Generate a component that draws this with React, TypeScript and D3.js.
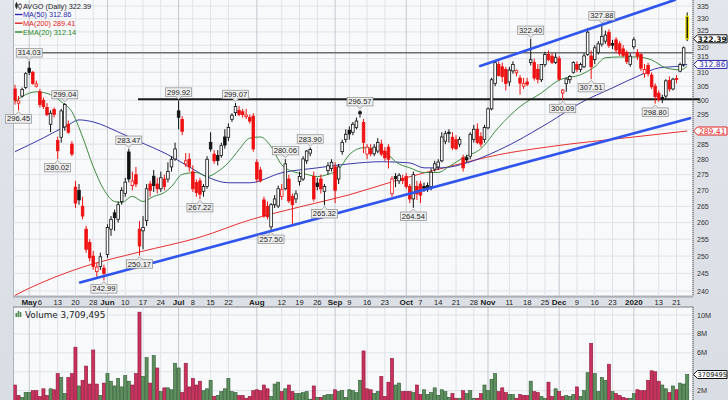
import React from "react";
import * as d3 from "d3";

// ---------- DATA ----------
const opens = [304,299,301.5,304.5,311.5,310,305,303,300,297.5,291.7,296.8,286.2,287.3,290.8,291.7,285,271,270,265,258,254,250,245.5,247,246.5,250.5,258,263,261,266.5,269,282.4,271.5,275,258,257.5,260.6,272,274.5,272,270.5,273.6,273.6,277.5,280.1,296.3,293.4,278.5,280,275.9,272.5,273,269.7,271.2,285.6,281.7,281.2,281.2,287.4,287.3,293.4,295.7,296.5,296,294.3,294,294.5,279,276.5,267,265,258.7,265.5,265.1,268.1,270.5,273.6,268.1,267.3,272.8,273.6,279.5,282,274.4,272.3,273.6,269.7,276.3,277,277.5,273.6,282.5,286.6,289.7,289,290.6,296,292.3,281.7,283.4,281.8,282.7,285,282.7,284,268.9,274.4,273,273.8,274.4,271.2,267.3,271.2,272,271.2,271.5,271.2,276.8,277.5,279.5,286,289,287.3,286.5,285,280.5,280.5,281,286.6,290,287.5,286.6,290.5,297,306,312.8,312,311,306.5,310.5,309.8,307.9,305,306.5,313.6,313.6,311,307.3,312.8,316.5,315.9,313.6,315,302.6,305.9,307.3,310,312.8,311,312,316.5,316,314.6,317.3,320.4,321.5,324.9,320.6,322,320.5,318.6,317.3,312.8,319.4,317.3,316.5,309.5,312.5,309,305,302.5,301,301.5,307,304,307.8,310.4,312.8,331];
const highs = [305.5,301.5,304.5,310,314.03,310.5,307,304,301,299,296.5,297.5,287.5,297,299.04,293,286,273,272,268,259,255,251.5,248,251,247.5,259.5,262,264,266.5,271,274,283.47,276,277.5,260.5,262,272,273,276.5,274,276,275,279,281,285.5,299.92,294.5,282,282,278,273.5,274,272,281,289,283,283,285.5,290,292,295.5,299.07,298,297,297,295,295.5,280,277.5,268,266.5,266,268.5,271.5,272,280.06,275,269,270,276,281,283,283.9,276,274,275,272,279,280,279,278.5,286.5,290,291,292.5,294,296.57,293.5,285,285,285,287,286.5,284,285,274.5,275.5,275.5,275,275.5,272,276,273,273,272.5,272.5,277,279.5,280,289,289.5,290,289,288,287.5,281.5,281.5,289,291.5,292,289,291.5,297.5,308,314,314,313.5,312,312,314,311,309,308,308,322.4,315,313,313,317.5,318,317,317,316,304,308,309,314,314,313.5,317,326.5,318,320,321.5,327.88,325.5,326,322,323,321.5,320,318,317,323,318.5,317,313,313.5,310,306,303.5,302,307.5,308.5,308,309,313.5,319.5,332.5];
const lows = [298.5,296.45,301,304,309,305.5,304.5,297.5,297,294.5,289,294,280.02,285.5,289.5,288.5,281,264.5,265.5,261,251,248.5,246,244,246,242.99,249.5,256,257.5,260,265.5,268,272.5,270,271,250.17,252,259,268,269.5,269,269.5,270,272.5,276,279.5,290,288,277.5,276,269.5,268,267.22,268,270.5,282.5,278.5,278,280.5,283.5,286,292.5,294.5,294.5,294,293.5,292,282.5,272.5,272.5,261.5,261,257.5,264.5,264.5,267,270,266,259.6,266,271.5,273,278.5,281,266.5,270,269,265.32,275,276,266,272,281.5,285.5,286.5,288,290,294,282,280,281,281,282,281,279.5,277,268,271,272,272,270.5,266,264.54,267,266,269.5,269.5,270,276,276.5,279,285,285.5,283,283,284,276,279,280,285.5,285,284,285.5,290,296.5,305,308.5,306.5,303.5,305,309.5,308.5,302,304,305,312.5,307,306,306.5,312,314,313,313,307,300.09,303,306,309.5,310,310,311.5,316,307.51,313,316.5,319.5,320.5,319,318.5,317,316,315.5,313,312,318.5,314.5,310.5,308,308.5,304,298.8,299.5,299,300.5,303,303.5,306,310,312,321.5];
const closes = [300,299.8,303.8,309.5,310,306,305.8,298.5,297.8,295,295.5,295.1,282.8,296.3,298.5,289,281.7,266,267,262,252,249.5,247,246.8,249.8,245,258.5,261,261.5,265.5,270,272.6,273.6,273,272,253,258.5,270.5,270,271.5,270.5,274,271.2,276,280,283.4,294.1,289.3,279.5,277.5,270.5,269.3,268.8,271.2,280,283.4,279.5,279.6,284.5,284.7,290.6,294.8,297.8,295.1,295,294.9,292.8,283.4,273.6,273,262,261.8,265.5,267.3,270.5,270.2,278.5,266.7,265.5,268.9,274.4,280.1,282.7,283.2,267.3,271.2,270.5,271.2,277.9,279,270,277.5,285.6,288.3,288.4,291.7,292.8,295.3,285.6,284,281.8,284,285.6,281.7,280.5,280,273.6,273.7,274.8,273.1,271.2,267.3,275,268.9,268.5,270.7,270.9,275.8,278.5,279.1,287.4,288.5,288.6,283.8,283.5,286.6,277.2,279.8,288.3,290,285.6,285,290.6,297,307.3,313.5,308.8,308.4,306,310.8,312.8,310.6,306.1,305.9,305.7,314.6,307.9,307.5,312.8,316.5,314.6,313.6,315.5,307.5,303.6,307.6,308.5,313.6,311,312.8,316,324.9,312,319,320.5,323.3,323.8,319.9,320,318.2,316.8,316.2,313.9,315.9,322,315.9,311.5,311,309.5,304.8,301.3,300.3,300.5,306.9,304,307.5,307.4,312.8,319,322.39];
// volume in millions of shares
const volumes = [2.6,1.5,1.3,1.8,1.8,2.0,2.0,1.4,2.2,1.5,2.2,2.1,3.8,3.4,1.7,3.4,3.8,6.6,2.5,3.1,4.6,2.7,6.3,2.7,1.5,2.8,3.8,3.0,2.5,3.3,2.4,3.6,3.0,2.6,3.8,10.3,3.5,5.5,2.8,5.7,4.4,1.9,2.3,2.3,2.1,4.9,4.4,1.8,4.9,2.4,3.3,2.6,3.0,2.0,2.2,3.1,1.4,1.5,1.9,2.2,3.3,1.9,1.8,1.5,1.5,1.2,1.4,2.0,2.1,2.0,2.6,2.2,1.4,2.7,2.9,1.9,2.2,2.6,1.9,1.7,1.7,1.8,1.9,1.1,2.5,1.3,1.3,1.5,1.6,1.6,2.1,1.9,2.0,1.3,2.1,2.0,1.8,3.1,6.2,2.2,2.1,1.7,1.9,3.5,1.4,2.9,5.4,2.6,2.8,1.9,1.9,1.9,1.8,2.6,1.6,2.1,1.6,1.8,2.3,1.5,2.1,1.9,1.3,1.7,1.2,1.2,2.0,1.7,2.0,1.2,1.2,1.7,2.6,2.0,3.2,3.8,1.9,2.3,1.8,1.6,1.6,1.2,1.6,1.5,1.5,3.0,1.9,1.8,1.4,1.2,2.9,1.4,2.2,1.9,1.4,1.5,1.4,1.6,2.4,1.4,2.0,3.9,7.0,3.8,1.9,3.4,3.1,4.8,1.9,1.7,1.5,1.3,1.2,1.2,1.7,2.1,2.0,2.0,3.1,4.1,4.0,3.0,2.6,2.2,1.8,2.5,2.1,2.8,2.7,3.709495];

// moving averages sampled along the chart: [trading-day index, value]
const ma50 = [[0,282.5],[8,287.1],[15,291.5],[18,293.2],[22,292.5],[29,289.1],[35,285.8],[43,281.5],[48,278.2],[54,274.3],[60,272.4],[66,272.4],[75,275.6],[85,277.2],[94,278.5],[103,279.2],[111,278.8],[115,277.2],[120,277.2],[127,278.8],[136,283],[150,292.2],[159,299.1],[168,304.4],[176,309.1],[181,311.6],[187,312.3],[189,312.86]];
const ma200 = [[0,238.8],[3,240.3],[19,246.8],[35,251.2],[52,255.6],[66,260.8],[80,264.8],[94,268.6],[108,273.4],[122,277.6],[136,281.5],[150,284.1],[174,287.4],[189,289.41]];
const ema20 = [[0,299.5],[3,302],[6,303],[10,302],[13,299.5],[16,296],[19,287.4],[22,277.6],[25,270.2],[28,266.5],[30,266.2],[33,268.1],[36,266.5],[39,268.1],[42,269.3],[44,271.2],[47,275.1],[51,275.7],[54,274.4],[57,276],[60,278.9],[63,283.2],[66,287],[69,287.4],[72,284.2],[75,278.2],[79,275.7],[82,275.1],[85,274.4],[88,275.1],[91,276.7],[94,281.5],[98,283.8],[102,283.2],[105,281.5],[107,279.2],[111,277.2],[115,275.7],[119,275.7],[122,277.6],[126,280.5],[131,283.5],[136,290.7],[142,297.8],[148,302.6],[153,307.2],[159,309.1],[163,312],[166,315.3],[170,315.6],[175,315.6],[179,314.5],[183,311.6],[187,310.9],[189,312.14]];

// date axis
const tickLabels = ["May","6","13","20","28","Jun","10","17","24","Jul","8","15","22","Aug","12","19","26","Sep","9","16","23","Oct","7","14","21","28","Nov","11","18","25","Dec","9","16","23","2020","13","21"];
const tickIdx = [4,7,12,17,22,26,31,36,41,46,50,55,60,68,75,80,85,90,94,99,104,110,114,119,124,129,133,139,144,149,153,158,163,168,174,181,186];
const priceTicks = d3.range(240, 336, 5);
const volTicks = [2, 4, 6, 8, 10];

// high / low annotations: trading-day index and which extreme
const annIdx = [4,1,14,12,32,25,35,46,52,62,76,83,72,87,97,112,145,154,165,162,180];
const annType = ["h","l","h","l","h","l","l","h","l","h","h","h","l","l","h","l","h","l","h","l","l"];

// drawn lines: [start index, end index, price] and [index, price] pairs
const levelLines = [[7.5, 190.6, 317.2], [34.6, 192.5, 300.4]];
const trendLower = [[18.3, 242.4], [189.8, 293.8]];
const trendUpper = [[130.8, 312.3], [185.5, 337.4]];

// ---------- LAYOUT ----------
const PL = 13.5, PR = 693, PB = 296, VT = 307, VB = 400;
const FONT = "'Liberation Sans', Arial, sans-serif";
const VFONT = "'DejaVu Sans', Verdana, sans-serif";

export default function App() {
  const x = d3.scaleLinear().domain([0, 189]).range([15, 687.2]);
  const y = d3.scaleLog().domain([240, 335]).range([291, 6]);
  const yv = d3.scaleLinear().domain([0, 10]).range([409.6, 315]);
  const n = closes.length;

  const lineGen = d3.line<number[]>().x(d => x(d[0])).y(d => y(d[1])).curve(d3.curveMonotoneX);
  const lastClose = closes[n - 1];
  const lastVol = volumes[n - 1];
  const ma50Last = ma50[ma50.length - 1][1];
  const ma200Last = ma200[ma200.length - 1][1];
  const emaLast = ema20[ema20.length - 1][1];
  const isMonth = (s: string) => isNaN(Number(s)) || s.length === 4;

  const RED = "#ee1111";
  const BLK = "#111111";
  const HH = 4.0;

  // tick labels fully covered by value boxes are hidden (as in the reference);
  // labels partly covered are nudged just clear of the box
  const priceBoxes = [y(lastClose), y(ma50Last), y(ma200Last)];
  const tickPos = (v: number) => {
    let p = y(v);
    for (const b of priceBoxes) {
      const d = p - b;
      if (Math.abs(d) < 8.4) p = b + (d >= 0 ? 8.4 : -8.4);
    }
    return p;
  };
  const shownPriceTicks = priceTicks.filter(v => priceBoxes.every(b => Math.abs(y(v) - b) > 4));
  const shownVolTicks = volTicks.filter(v => Math.abs(yv(v) - yv(lastVol)) > 5);

  const valBox = (yy: number, text: string, color: string, bold: boolean, key: string, fs: number) => {
    const x0 = PR + 0.5, x1 = 727;
    return (
      <g key={key}>
        <polygon points={`${x0},${yy} ${x0 + 4},${yy - HH} ${x1},${yy - HH} ${x1},${yy + HH} ${x0 + 4},${yy + HH}`} fill="#fff" stroke={color} strokeWidth={1} />
        <text x={(x0 + 4 + x1) / 2} y={yy + 2.8} textAnchor="middle" fontFamily={VFONT} fontSize={fs} fontWeight={bold ? "bold" : "normal"} fill={color}>{text}</text>
      </g>
    );
  };

  return (
    <svg width={728} height={400} style={{ position: "absolute", left: 0, top: 0, display: "block" }} xmlns="http://www.w3.org/2000/svg">
      <defs>
        <clipPath id="cp"><rect x={PL} y={0} width={PR - PL} height={PB} /></clipPath>
        <clipPath id="cv"><rect x={PL} y={VT} width={PR - PL} height={VB - VT} /></clipPath>
        <linearGradient id="bg" x1="0" x2="0" y1="0" y2="1">
          <stop offset="0" stopColor="#e3e6ec" />
          <stop offset="1" stopColor="#d9dde4" />
        </linearGradient>
      </defs>
      <rect x={0} y={0} width={728} height={400} fill="url(#bg)" />
      {/* panels */}
      <rect x={PL} y={-1} width={PR - PL} height={PB + 1} fill="#f8f9fb" stroke="#a0a6b0" strokeWidth={0.8} />
      <rect x={PL} y={VT} width={PR - PL} height={VB - VT + 5} fill="#f8f9fb" stroke="#a0a6b0" strokeWidth={0.8} />

      {/* grid */}
      <g clipPath="url(#cp)">
        {priceTicks.map(v => (
          <line key={"hg" + v} x1={PL} x2={PR} y1={y(v)} y2={y(v)} stroke="#dfe2e8" strokeWidth={1} />
        ))}
        {tickIdx.map((t, k) => (
          <line key={"vg" + k} x1={x(t)} x2={x(t)} y1={0} y2={PB} stroke={isMonth(tickLabels[k]) ? "#c4c8d0" : "#dfe2e8"} strokeWidth={1} />
        ))}
      </g>
      <g clipPath="url(#cv)">
        {volTicks.map(v => (
          <line key={"vhg" + v} x1={PL} x2={PR} y1={yv(v)} y2={yv(v)} stroke="#dfe2e8" strokeWidth={1} />
        ))}
        {tickIdx.map((t, k) => (
          <line key={"vvg" + k} x1={x(t)} x2={x(t)} y1={VT} y2={VB} stroke={isMonth(tickLabels[k]) ? "#c4c8d0" : "#dfe2e8"} strokeWidth={1} />
        ))}
      </g>

      {/* moving averages */}
      <g clipPath="url(#cp)" fill="none">
        <path d={lineGen(ma200 as any) || ""} stroke="#e83030" strokeWidth={1} />
        <path d={lineGen(ma50 as any) || ""} stroke="#3838a8" strokeWidth={1} />
        <path d={lineGen(ema20 as any) || ""} stroke="#3d8c3d" strokeWidth={1} />
      </g>

      {/* level lines */}
      <g>
        <line x1={x(levelLines[0][0])} x2={x(levelLines[0][1])} y1={y(levelLines[0][2])} y2={y(levelLines[0][2])} stroke="#6e6e6e" strokeWidth={1.5} />
        <line x1={x(levelLines[1][0])} x2={x(levelLines[1][1])} y1={y(levelLines[1][2])} y2={y(levelLines[1][2])} stroke="#1a1a1a" strokeWidth={2} />
      </g>

      {/* candles */}
      <g clipPath="url(#cp)">
        {opens.map((o, i) => {
          const c = closes[i];
          const prev = i > 0 ? closes[i - 1] : o;
          const last = i === n - 1;
          const col = c < prev ? RED : BLK;
          const filled = c < o;
          const xc = x(i);
          const yt = y(Math.max(o, c));
          const yb = y(Math.min(o, c));
          const bh = Math.max(0.8, yb - yt);
          return (
            <g key={"c" + i}>
              <line x1={xc} x2={xc} y1={y(highs[i])} y2={y(lows[i])} stroke={last ? BLK : col} strokeWidth={1} />
              <rect x={xc - 1.3} y={yt} width={2.6} height={bh}
                fill={last ? BLK : filled ? col : "#ffffff"}
                stroke={last ? "#f0e000" : col} strokeWidth={last ? 1.2 : 0.8} />
            </g>
          );
        })}
      </g>

      {/* trend lines */}
      <g clipPath="url(#cp)">
        <line x1={x(trendLower[0][0])} y1={y(trendLower[0][1])} x2={x(trendLower[1][0])} y2={y(trendLower[1][1])} stroke="#2f55ee" strokeWidth={2.6} strokeLinecap="round" />
        <line x1={x(trendUpper[0][0])} y1={y(trendUpper[0][1])} x2={x(trendUpper[1][0])} y2={y(trendUpper[1][1])} stroke="#2f55ee" strokeWidth={2.6} strokeLinecap="round" />
      </g>

      {/* hi/lo annotations */}
      <g>
        {annIdx.map((i, k) => {
          const hi = annType[k] === "h";
          const v = hi ? highs[i] : lows[i];
          const cx = x(i);
          const tip = hi ? y(v) - 1.2 : y(v) + 1.2;
          const bw = 26, bh = 8.5;
          const by = hi ? tip - 3 - bh : tip + 3;
          const edge = hi ? by + bh : by;
          return (
            <g key={"a" + k}>
              <polyline points={`${cx - 3},${edge} ${cx},${tip} ${cx + 3},${edge}`} fill="#efefef" stroke="#8a8a8a" strokeWidth={0.7} />
              <rect x={cx - bw / 2} y={by} width={bw} height={bh} fill="#efefef" stroke="#8a8a8a" strokeWidth={0.7} />
              <line x1={cx - 2.4} x2={cx + 2.4} y1={edge} y2={edge} stroke="#efefef" strokeWidth={0.9} />
              <text x={cx} y={by + bh - 1.7} textAnchor="middle" fontFamily={FONT} fontSize={7.6} fill="#222">{v.toFixed(2)}</text>
            </g>
          );
        })}
      </g>

      {/* legend */}
      <g fontFamily={FONT} fontSize={7.3}>
        <g>
          <line x1={16.5} x2={16.5} y1={2} y2={9} stroke="#222" strokeWidth={0.8} />
          <rect x={15.3} y={3.5} width={2.4} height={4} fill="#222" />
          <line x1={20} x2={20} y1={3} y2={10} stroke="#222" strokeWidth={0.8} />
          <rect x={18.8} y={4.5} width={2.4} height={3.5} fill="#fff" stroke="#222" strokeWidth={0.6} />
        </g>
        <text x={23} y={8.8} fill="#222">{`AVGO (Daily) ${lastClose.toFixed(2)}`}</text>
        <line x1={15} x2={22.5} y1={14.5} y2={14.5} stroke="#2828b0" strokeWidth={1.4} />
        <text x={23} y={17.3} fill="#2828b0">{`MA(50) ${ma50Last.toFixed(2)}`}</text>
        <line x1={15} x2={22.5} y1={23.2} y2={23.2} stroke="#e02020" strokeWidth={1.4} />
        <text x={23} y={26} fill="#e02020">{`MA(200) ${ma200Last.toFixed(2)}`}</text>
        <line x1={15} x2={22.5} y1={32} y2={32} stroke="#2a8a2a" strokeWidth={1.4} />
        <text x={23} y={34.8} fill="#2a8a2a">{`EMA(20) ${emaLast.toFixed(2)}`}</text>
      </g>

      {/* right price axis */}
      <line x1={PR} x2={PR} y1={0} y2={PB} stroke="#666" strokeWidth={1} strokeDasharray="1,1" />
      <g fontFamily={FONT} fontSize={7} fill="#333">
        {shownPriceTicks.map(v => (
          <text key={"pt" + v} x={697} y={tickPos(v) + 2.5}>{v}</text>
        ))}
      </g>

      {/* x axis band */}
      <line x1={PL} x2={PR} y1={PB + 1} y2={PB + 1} stroke="#666" strokeWidth={1} strokeDasharray="1,1" />
      <line x1={PL} x2={PR} y1={VT} y2={VT} stroke="#666" strokeWidth={1} strokeDasharray="1,1" />
      <g fontFamily={FONT} fill="#222">
        {tickIdx.map((t, k) => {
          const m = isMonth(tickLabels[k]);
          return (
            <text key={"xt" + k} x={x(t)} y={304.5} textAnchor="middle" fontSize={m ? 8 : 7.5} fontWeight={m ? "bold" : "normal"}>{tickLabels[k]}</text>
          );
        })}
      </g>

      {/* volume bars */}
      <g clipPath="url(#cv)">
        {volumes.map((v, i) => {
          const prev = i > 0 ? closes[i - 1] : opens[i];
          const down = closes[i] < prev;
          return (
            <rect key={"v" + i} x={x(i) - 1.55} y={yv(v)} width={3.1} height={409.6 - yv(v)}
              fill={down ? "#c8325e" : "#5e8f5e"} stroke={down ? "#8e1838" : "#2f5a33"} strokeWidth={0.6} />
          );
        })}
      </g>
      <line x1={PR} x2={PR} y1={VT} y2={VB} stroke="#666" strokeWidth={1} strokeDasharray="1,1" />
      <g fontFamily={FONT} fontSize={7.3} fill="#333">
        {shownVolTicks.map(v => (
          <text key={"vt" + v} x={697} y={yv(v) + 2.5}>{v + "M"}</text>
        ))}
      </g>
      {/* volume legend */}
      <g>
        <rect x={15.5} y={313} width={1.6} height={4} fill="#4c8a4c" />
        <rect x={17.6} y={311} width={1.6} height={6} fill="#4c8a4c" />
        <rect x={19.7} y={312} width={1.6} height={5} fill="#4c8a4c" />
        <text x={25} y={317.5} fontFamily={VFONT} fontSize={8.8} fill="#222">{`Volume ${d3.format(",")(Math.round(lastVol * 1e6))}`}</text>
      </g>

      {/* right value boxes */}
      {valBox(y(ma200Last), ma200Last.toFixed(2), "#e02020", false, "b200", 7.6)}
      {valBox(y(ma50Last), ma50Last.toFixed(2), "#2828b0", false, "b50", 7.6)}
      {valBox(y(lastClose), lastClose.toFixed(2), "#111", true, "bc", 7.6)}
      {valBox(yv(lastVol), String(Math.round(lastVol * 1e6)), "#111", false, "bv", 6.6)}
    </svg>
  );
}
